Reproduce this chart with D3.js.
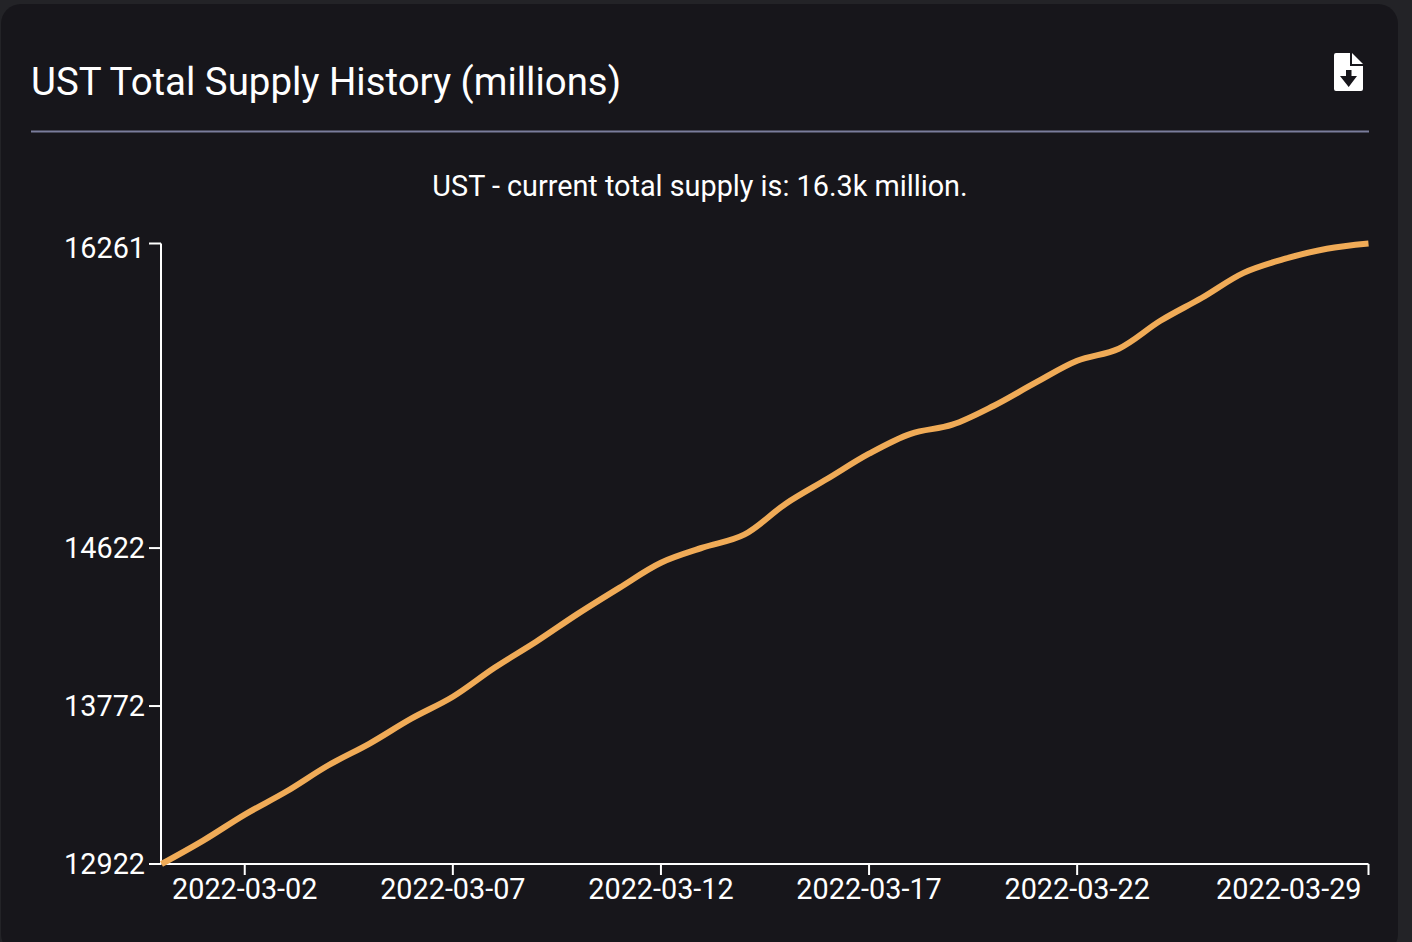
<!DOCTYPE html>
<html>
<head>
<meta charset="utf-8">
<script src="https://cdn.jsdelivr.net/npm/d3@7"></script>
<style>
html, body { margin: 0; padding: 0; background: #232327; overflow: hidden; }
#card { position: absolute; left: 1px; top: 4px; width: 1397px; height: 950px; background: #17161b; border-radius: 20px; }
</style>
</head>
<body>
<div id="card"></div>
<div id="chart"></div>
<script>
// daily total supply, millions
const dates = ["2022-02-28","2022-03-01","2022-03-02","2022-03-03","2022-03-04","2022-03-05","2022-03-06","2022-03-07","2022-03-08","2022-03-09","2022-03-10","2022-03-11","2022-03-12","2022-03-13","2022-03-14","2022-03-15","2022-03-16","2022-03-17","2022-03-18","2022-03-19","2022-03-20","2022-03-21","2022-03-22","2022-03-23","2022-03-24","2022-03-25","2022-03-26","2022-03-27","2022-03-28","2022-03-29"];
const supply = [12922,13048,13188,13312,13452,13570,13704,13822,13978,14118,14268,14408,14543,14624,14694,14861,14995,15130,15237,15286,15388,15512,15630,15695,15845,15969,16103,16179,16233,16261];
const yTicks = [12922,13772,14622,16261];
const xTickLabels = ["2022-03-02","2022-03-07","2022-03-12","2022-03-17","2022-03-22","2022-03-29"];

const font = "Roboto, sans-serif";
const parse = d3.utcParse("%Y-%m-%d");
const fmt = d3.utcFormat("%Y-%m-%d");
const data = dates.map((d, i) => ({date: parse(d), value: supply[i]}));

const svg = d3.select("#chart").append("svg")
	.attr("width", 1412).attr("height", 942)
	.style("position", "absolute").style("left", 0).style("top", 0)
	.style("font-family", font);

// header
svg.append("text").attr("x", 31).attr("y", 95)
	.attr("fill", "#fff").style("font-size", "38.4px")
	.text("UST Total Supply History (millions)");

svg.append("line").attr("x1", 31).attr("x2", 1369).attr("y1", 131.5).attr("y2", 131.5)
	.attr("stroke", "#7a7d9c").attr("stroke-width", 2);

// download icon
const icon = svg.append("g").attr("transform", "translate(1334,53)");
icon.append("path").attr("fill", "#fff")
	.attr("d", "M2 0H16V13H29V36a2 2 0 0 1-2 2H2a2 2 0 0 1-2-2V2a2 2 0 0 1 2-2Z");
icon.append("path").attr("fill", "#fff").attr("d", "M18 0L29 11H18Z");
icon.append("path").attr("fill", "#17161b")
	.attr("d", "M12 17H17.5V23H23L14.7 34L6 23H12Z");

svg.append("text").attr("x", 700).attr("y", 196).attr("text-anchor", "middle")
	.attr("fill", "#fff").style("font-size", "28.8px")
	.text("UST - current total supply is: 16.3k million.");

// scales
const margin = {top: 243.5, right: 1368.5, bottom: 864, left: 161.5};
const x = d3.scaleUtc()
	.domain(d3.extent(data, d => d.date))
	.range([margin.left, margin.right]);
const y = d3.scaleLinear()
	.domain([yTicks[0], yTicks[yTicks.length - 1]])
	.range([margin.bottom, margin.top]);

// axes
const xAxis = d3.axisBottom(x)
	.tickValues(xTickLabels.map(parse))
	.tickFormat(fmt)
	.tickSizeInner(11)
	.tickSizeOuter(0)
	.tickPadding(4)
	.offset(0);
const yAxis = d3.axisLeft(y)
	.tickValues(yTicks)
	.tickFormat(d3.format("d"))
	.tickSizeInner(12)
	.tickSizeOuter(0)
	.tickPadding(4)
	.offset(0);

const gx = svg.append("g").attr("transform", "translate(0," + margin.bottom + ")").call(xAxis);
const gy = svg.append("g").attr("transform", "translate(161,0)").call(yAxis);

[gx, gy].forEach(g => {
	g.selectAll(".domain").attr("stroke", "#fff").attr("stroke-width", 2);
	g.selectAll(".tick line").attr("stroke", "#fff").attr("stroke-width", 2);
	g.selectAll("text").attr("fill", "#fff").style("font-size", "28.8px").style("font-family", font);
});

// last date label sits inside the plot edge
gx.selectAll(".tick text").filter((d, i) => i === xTickLabels.length - 1)
	.attr("text-anchor", "end").attr("dx", -7);

gy.selectAll(".tick text").attr("dy", "0.36em");
// top value label hangs a little below its tick
gy.selectAll(".tick text").filter(d => d === yTicks[yTicks.length - 1]).attr("dy", "0.52em");

// line
const line = d3.line()
	.x(d => x(d.date))
	.y(d => y(d.value))
	.curve(d3.curveCatmullRom.alpha(0.5));

svg.append("path").datum(data)
	.attr("fill", "none")
	.attr("stroke", "#f0ab57")
	.attr("stroke-width", 6)
	.attr("d", line);
</script>
</body>
</html>
